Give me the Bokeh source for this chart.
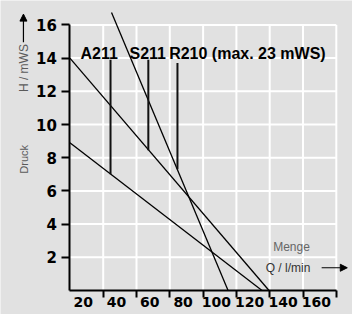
from bokeh.plotting import figure
from bokeh.models import FixedTicker, ColumnDataSource, Label, Arrow, NormalHead, Range1d
from bokeh.core.properties import value
from bokeh.embed import file_html
from bokeh.resources import INLINE

# ---- data ----
q_ticks = [20, 40, 60, 80, 100, 120, 140, 160]
q_labels = ["20", "40", "60", "80", "100", "120", "140", "160"]
h_ticks = [2, 4, 6, 8, 10, 12, 14, 16]
h_labels = ["2", "4", "6", "8", "10", "12", "14", "16"]

a211_q = [0.0, 115.4]
a211_h = [8.9, 0.0]
s211_q = [0.0, 119.6]
s211_h = [14.0, 0.0]
r210_q = [25.0, 95.0]
r210_h = [16.75, 0.0]

pump_names = ["A211", "S211", "R210 (max. 23  mWS)"]
name_q = [6.4, 35.8, 59.6]
name_h = [14.27, 14.27, 14.27]
marker_q = [24.4, 47.1, 64.6]
marker_top = [13.9, 13.9, 13.7]
marker_bottom = [7.0, 8.45, 7.3]

# ---- style / layout ----
BG = "#e1e1e1"
W, H = 352, 314
X0, SX = 69.4, 1.665     # pixel of q=0, pixels per l/min
Y0, SY = 290.0, 16.6     # pixel of h=0, pixels per mWS
label_shift = 12         # tick labels sit left of their grid lines in the original

p = figure(width=W, height=H, output_backend="svg", toolbar_location=None,
           x_range=Range1d(-X0 / SX, (W - X0) / SX),
           y_range=Range1d(-(H - Y0) / SY, Y0 / SY),
           min_border=0)
p.background_fill_color = BG
p.border_fill_color = BG
p.outline_line_color = None
p.xgrid.visible = False
p.ygrid.visible = False

# white grid
p.segment(x0=0, x1=160, y0=h_ticks, y1=h_ticks, line_color="white", line_width=2)
p.segment(x0=q_ticks, x1=q_ticks, y0=0, y1=16, line_color="white", line_width=2)

# pump curves
for qq, hh in [(a211_q, a211_h), (s211_q, s211_h), (r210_q, r210_h)]:
    p.line(qq, hh, line_color="black", line_width=1.3)

# max markers
p.segment(x0=marker_q, x1=marker_q, y0=marker_bottom, y1=marker_top,
          line_color="#111111", line_width=2)

src = ColumnDataSource(dict(x=name_q, y=name_h, t=pump_names))
p.text(x="x", y="y", text="t", source=src, text_font=value("Liberation Sans"),
       text_font_style="bold", text_font_size="16px", text_color="black",
       text_align="left", text_baseline="alphabetic")

# axes (fixed inside the frame, at q=0 / h=0)
xa = p.xaxis[0]
xa.fixed_location = 0
xa.ticker = FixedTicker(ticks=[q - label_shift for q in q_ticks], minor_ticks=q_ticks)
xa.major_label_overrides = {q - label_shift: lab for q, lab in zip(q_ticks, q_labels)}
xa.bounds = (0, 160)
xa.axis_line_width = 2
xa.major_tick_line_color = None
xa.major_tick_out = 0
xa.major_tick_in = 0
xa.minor_tick_out = 7
xa.minor_tick_in = 0
xa.minor_tick_line_width = 2
xa.major_label_standoff = -1
xa.major_label_text_font = "DejaVu Sans"
xa.major_label_text_font_style = "bold"
xa.major_label_text_font_size = "14px"
xa.major_label_text_color = "black"

ya = p.yaxis[0]
ya.fixed_location = 0
ya.ticker = FixedTicker(ticks=h_ticks, minor_ticks=[])
ya.major_label_overrides = {h: lab for h, lab in zip(h_ticks, h_labels)}
ya.bounds = (0, 16)
ya.axis_line_width = 2
ya.major_tick_out = 8
ya.major_tick_in = 0
ya.major_tick_line_width = 2
ya.minor_tick_line_color = None
ya.major_label_standoff = 5
ya.major_label_text_font = "DejaVu Sans"
ya.major_label_text_font_style = "bold"
ya.major_label_text_font_size = "15px"
ya.major_label_text_color = "black"

# axis captions
GRAY = "#5a5a5a"
p.add_layout(Label(x=-27.6, y=13.4, text="H / mWS", angle=90, angle_units="deg",
                   text_align="center", text_baseline="middle", text_font="Liberation Sans",
                   text_font_size="12px", text_color=GRAY))
p.add_layout(Label(x=-27.6, y=7.9, text="Druck", angle=90, angle_units="deg",
                   text_align="center", text_baseline="middle", text_font="Liberation Sans",
                   text_font_size="11px", text_color=GRAY))
p.add_layout(Arrow(x_start=-27.9, y_start=14.95, x_end=-27.9, y_end=16.65, line_width=1.2,
                   line_color="black",
                   end=NormalHead(size=7, fill_color="black", line_color="black")))
p.add_layout(Label(x=133.1, y=2.6, text="Menge", text_align="center", text_baseline="middle",
                   text_font="Liberation Sans", text_font_size="12px", text_color="#666666"))
p.add_layout(Label(x=131.0, y=1.34, text="Q / l/min", text_align="center", text_baseline="middle",
                   text_font="Liberation Sans", text_font_size="12px", text_color="#333333"))
p.add_layout(Arrow(x_start=151.2, y_start=1.37, x_end=166.6, y_end=1.37, line_width=1.2,
                   line_color="black",
                   end=NormalHead(size=7, fill_color="black", line_color="black")))

open("out.html", "w").write(file_html(p, INLINE))
